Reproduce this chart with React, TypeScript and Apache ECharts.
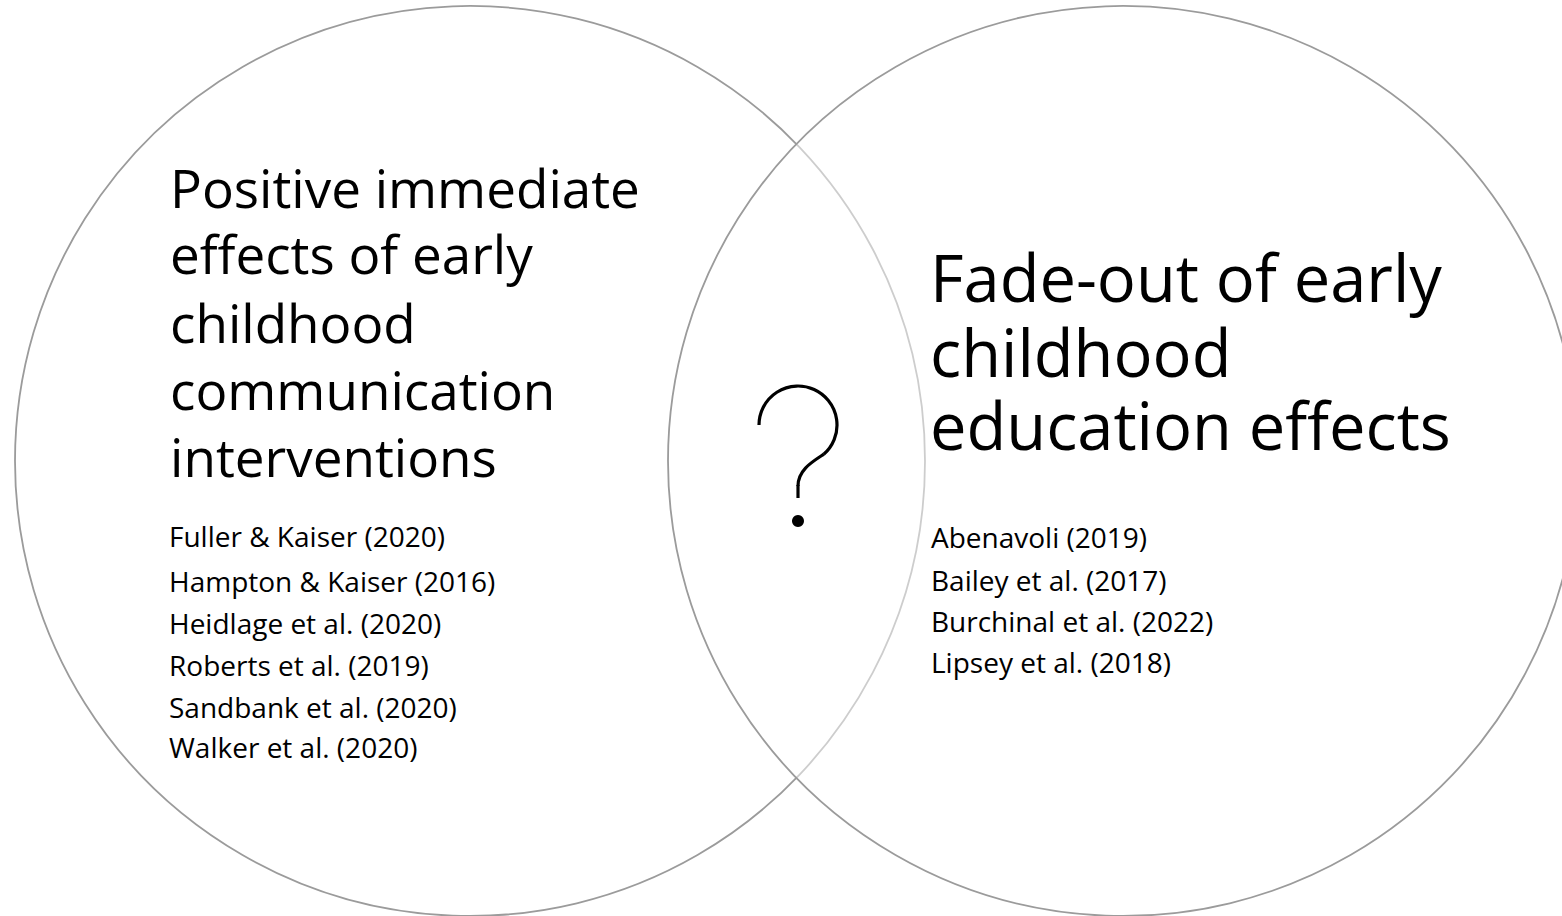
import React, { useEffect, useRef } from "react";
import * as echarts from "echarts";

const leftHeading = [
  "Positive immediate",
  "effects of early",
  "childhood",
  "communication",
  "interventions",
];
const leftRefs = [
  "Fuller & Kaiser (2020)",
  "Hampton & Kaiser (2016)",
  "Heidlage et al. (2020)",
  "Roberts et al. (2019)",
  "Sandbank et al. (2020)",
  "Walker et al. (2020)",
];
const rightHeading = ["Fade-out of early", "childhood", "education effects"];
const rightRefs = [
  "Abenavoli (2019)",
  "Bailey et al. (2017)",
  "Burchinal et al. (2022)",
  "Lipsey et al. (2018)",
];

// baselines (px)
const leftHeadingBaselines = [208, 274, 343, 410, 477];
const leftRefBaselines = [547, 592, 634, 676, 718, 758];
const rightHeadingBaselines = [302, 377, 450];
const rightRefBaselines = [548, 591, 632, 673];

const FONT = "'Open Sans', 'Noto Sans', sans-serif";

export default function App() {
  const ref = useRef<HTMLDivElement>(null);
  useEffect(() => {
    if (!ref.current) return;
    const chart = echarts.init(ref.current, null, { renderer: "svg" });
    const lines = (
      texts: string[],
      baselines: number[],
      x: number,
      fs: number,
      lh: number
    ) =>
      texts.map((t, i) => ({
        type: "text",
        x,
        y: baselines[i] - 0.388 * fs,
        z: 10,
        style: {
          text: t,
          fill: "#000",
          font: `${fs}px ${FONT}`,
          lineHeight: lh,
          align: "left",
          verticalAlign: "middle",
        },
      }));
    const circleStyle = { stroke: "#9b9b9b", lineWidth: 1.8 };
    chart.setOption({
      animation: false,
      backgroundColor: "#fff",
      graphic: [
        {
          type: "circle",
          shape: { cx: 470, cy: 461, r: 455 },
          style: { fill: "rgba(255,255,255,0.5)", ...circleStyle },
          z: 1,
        },
        {
          type: "circle",
          shape: { cx: 1123, cy: 461, r: 455 },
          style: { fill: "rgba(255,255,255,0.5)", ...circleStyle },
          z: 2,
        },
        {
          type: "arc",
          shape: {
            cx: 798,
            cy: 425,
            r: 39,
            startAngle: Math.PI,
            endAngle: Math.PI * 2 + 0.85,
            clockwise: true,
          },
          style: { stroke: "#000", lineWidth: 3.2, fill: null, lineCap: "butt" },
          z: 5,
        },
        {
          type: "bezierCurve",
          shape: {
            x1: 823.8,
            y1: 454.2,
            cpx1: 812,
            cpy1: 462,
            cpx2: 798,
            cpy2: 470,
            x2: 798,
            y2: 486,
          },
          style: { stroke: "#000", lineWidth: 3.2, fill: null },
          z: 5,
        },
        {
          type: "line",
          shape: { x1: 798, y1: 485, x2: 798, y2: 498 },
          style: { stroke: "#000", lineWidth: 3.2 },
          z: 5,
        },
        {
          type: "circle",
          shape: { cx: 798, cy: 521, r: 6 },
          style: { fill: "#000" },
          z: 5,
        },
        ...lines(leftHeading, leftHeadingBaselines, 170, 53, 62),
        ...lines(leftRefs, leftRefBaselines, 169, 28, 36),
        ...lines(rightHeading, rightHeadingBaselines, 930, 65, 70),
        ...lines(rightRefs, rightRefBaselines, 931, 28, 36),
      ],
    });
    return () => chart.dispose();
  }, []);
  return (
    <div
      ref={ref}
      style={{
        position: "fixed",
        left: 0,
        top: 0,
        width: 1562,
        height: 916,
        background: "#fff",
      }}
    />
  );
}
